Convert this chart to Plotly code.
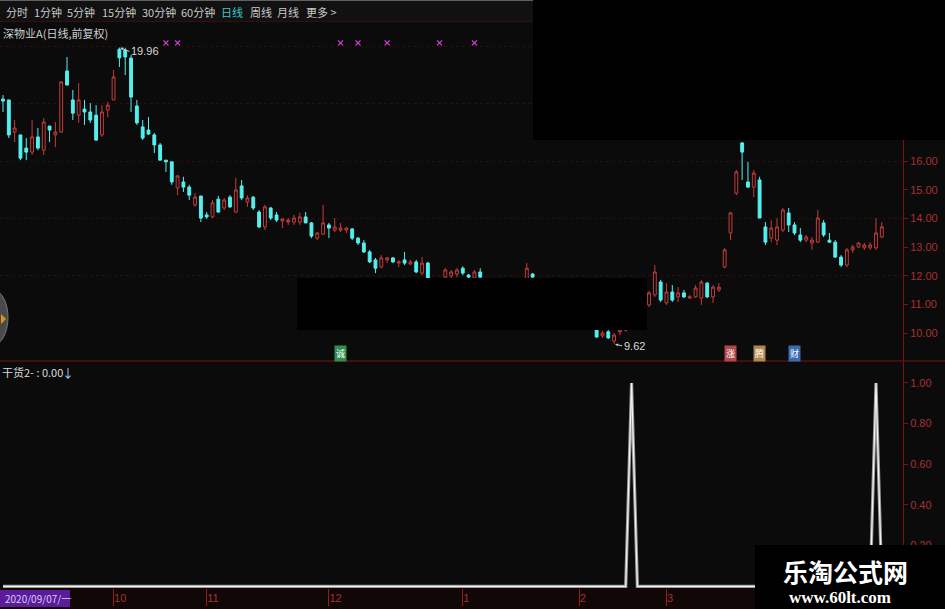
import plotly.graph_objects as go
import pandas as pd

# ---------------- data ----------------
holidays = ["2020-10-01", "2020-10-02", "2020-10-05", "2020-10-06", "2020-10-07", "2020-10-08",
            "2021-01-01", "2021-02-11", "2021-02-12", "2021-02-15", "2021-02-16", "2021-02-17",
            "2021-04-05"]
dates = [d.strftime("%Y-%m-%d") for d in pd.bdate_range("2020-09-04", "2021-04-22")
         if d.strftime("%Y-%m-%d") not in holidays]

open_ = [18.16, 18.13, 17.01, 16.91, 16.45, 16.31, 16.84, 16.38, 17.22, 16.91,
         17.01, 19.14, 18.13, 17.60, 17.81, 17.71, 17.60, 16.91, 17.78, 18.13,
         19.90, 19.87, 19.59, 17.92, 17.19, 17.08, 16.91, 16.56, 16.03, 15.97,
         15.06, 15.27, 15.09, 14.47, 14.78, 14.12, 14.05, 14.67, 14.36, 14.74,
         14.22, 15.13, 14.57, 14.74, 14.22, 13.70, 14.36, 14.12, 13.91, 13.87,
         13.87, 13.87, 14.05, 13.84, 13.31, 13.45, 13.77, 13.59, 13.59, 13.59,
         13.63, 13.31, 13.14, 12.83, 12.55, 12.30, 12.55, 12.62, 12.44, 12.55,
         12.41, 12.48, 12.09, 12.44, 11.85, 11.65, 11.95, 11.99, 12.06, 12.26,
         12.02, 11.92, 12.13, 11.90, 11.70, 11.80, 11.65, 11.75, 11.70, 11.75,
         11.90, 12.06, 11.85, 11.65, 11.50, 11.40, 11.45, 11.15, 10.95, 10.80,
         10.60, 10.40, 10.11, 9.90, 10.04, 9.72, 10.04, 10.10, 10.35, 10.70,
         10.90, 10.98, 11.33, 11.78, 11.05, 11.43, 11.26, 11.40, 11.22, 11.26,
         11.22, 11.74, 11.26, 11.50, 12.30, 13.49, 14.88, 16.63, 15.27, 15.09,
         15.34, 13.70, 13.31, 13.24, 13.59, 14.19, 13.77, 13.42, 13.24, 13.14,
         13.17, 13.84, 13.24, 13.17, 12.65, 12.37, 12.90, 13.00, 12.97, 12.97,
         12.97, 13.35]
high = [18.30, 18.13, 17.43, 16.91, 16.80, 17.43, 17.15, 17.50, 17.22, 17.36,
        18.79, 19.63, 18.48, 18.72, 18.13, 18.02, 17.95, 17.95, 18.06, 19.17,
        19.96, 19.95, 19.70, 18.13, 17.43, 17.53, 16.98, 16.63, 16.03, 15.97,
        15.51, 15.45, 15.17, 14.88, 14.78, 14.22, 14.64, 14.78, 14.71, 14.81,
        15.41, 15.34, 14.81, 14.78, 14.29, 14.47, 14.40, 14.22, 14.01, 14.01,
        14.12, 14.19, 14.22, 13.87, 13.52, 14.47, 13.84, 14.01, 13.84, 13.70,
        13.66, 13.35, 13.24, 12.90, 12.62, 12.72, 12.65, 12.65, 12.55, 12.83,
        12.55, 12.55, 12.65, 12.48, 11.88, 11.85, 12.26, 12.20, 12.26, 12.33,
        12.06, 12.20, 12.26, 11.92, 11.85, 11.88, 11.80, 11.88, 11.85, 11.88,
        12.44, 12.09, 11.90, 11.75, 11.60, 11.55, 11.50, 11.25, 11.05, 10.90,
        10.70, 10.50, 10.18, 10.07, 10.11, 10.00, 10.18, 10.40, 10.75, 11.00,
        11.10, 11.47, 12.37, 11.85, 11.74, 11.67, 11.60, 11.50, 11.33, 11.67,
        11.85, 11.78, 11.67, 11.74, 12.97, 14.22, 15.69, 16.66, 15.97, 15.69,
        15.45, 13.87, 13.94, 14.01, 14.36, 14.36, 13.87, 13.66, 13.42, 13.35,
        14.29, 13.94, 13.49, 13.24, 12.72, 12.97, 13.07, 13.17, 13.14, 13.17,
        14.01, 13.87]
low = [17.71, 16.80, 16.66, 16.03, 16.03, 16.21, 16.38, 16.21, 16.66, 16.49,
       16.98, 18.65, 17.43, 17.33, 17.26, 17.33, 16.70, 16.84, 17.53, 18.13,
       19.28, 19.00, 17.71, 17.26, 16.73, 16.91, 16.28, 16.03, 15.62, 15.17,
       14.81, 14.92, 14.64, 14.40, 13.87, 13.98, 14.01, 14.19, 14.29, 14.36,
       14.19, 14.64, 14.40, 14.29, 13.66, 13.59, 13.94, 13.87, 13.66, 13.77,
       13.77, 13.77, 13.84, 13.31, 13.24, 13.42, 13.31, 13.52, 13.52, 13.49,
       13.24, 13.07, 12.79, 12.44, 12.09, 12.26, 12.44, 12.44, 12.30, 12.37,
       12.37, 12.09, 12.02, 11.88, 11.60, 11.55, 11.85, 11.90, 11.95, 12.02,
       11.88, 11.85, 11.85, 11.60, 11.55, 11.60, 11.50, 11.60, 11.55, 11.62,
       11.85, 11.90, 11.60, 11.45, 11.30, 11.25, 11.10, 10.90, 10.70, 10.55,
       10.35, 10.10, 9.83, 9.83, 9.79, 9.62, 9.93, 10.05, 10.30, 10.60,
       10.80, 10.91, 11.26, 11.08, 10.98, 11.08, 11.08, 11.22, 11.19, 11.22,
       10.98, 11.22, 11.05, 11.43, 12.26, 13.24, 14.81, 15.34, 15.06, 14.74,
       14.01, 13.07, 13.17, 13.07, 13.52, 13.52, 13.42, 13.17, 13.17, 12.90,
       13.14, 13.35, 13.14, 12.62, 12.30, 12.30, 12.79, 12.97, 12.90, 12.90,
       12.90, 13.31]
close = [18.09, 16.91, 17.15, 16.10, 16.31, 16.84, 16.45, 17.36, 17.08, 17.01,
         18.76, 18.65, 17.67, 18.13, 17.71, 17.43, 16.73, 17.71, 17.95, 18.93,
         19.60, 19.63, 18.23, 17.33, 16.80, 16.94, 16.56, 16.03, 15.97, 15.27,
         15.48, 15.09, 14.81, 14.74, 14.01, 14.05, 14.54, 14.22, 14.64, 14.40,
         14.99, 14.71, 14.71, 14.36, 13.70, 14.40, 14.01, 13.94, 13.98, 13.94,
         14.01, 14.05, 13.84, 13.38, 13.49, 13.84, 13.66, 13.70, 13.66, 13.66,
         13.31, 13.14, 12.83, 12.48, 12.26, 12.62, 12.62, 12.48, 12.48, 12.44,
         12.48, 12.13, 12.44, 11.92, 11.70, 11.80, 12.20, 12.13, 12.20, 12.09,
         11.95, 12.13, 11.95, 11.70, 11.80, 11.65, 11.75, 11.70, 11.80, 11.82,
         12.26, 11.95, 11.65, 11.50, 11.40, 11.45, 11.15, 10.95, 10.80, 10.60,
         10.40, 10.15, 9.86, 10.00, 9.83, 9.93, 10.11, 10.35, 10.70, 10.90,
         11.05, 11.40, 12.13, 11.15, 11.43, 11.15, 11.40, 11.26, 11.26, 11.57,
         11.78, 11.26, 11.60, 11.60, 12.90, 14.19, 15.62, 16.31, 15.09, 15.58,
         14.01, 13.17, 13.66, 13.70, 14.29, 13.77, 13.49, 13.24, 13.35, 13.24,
         14.01, 13.42, 13.17, 12.65, 12.37, 12.90, 13.00, 13.14, 13.07, 13.07,
         13.49, 13.70]

signal_dates = ["2021-02-19", "2021-04-21"]          # 干货2 = 1
mark_dates = ["2020-10-22", "2020-10-26", "2020-12-03", "2020-12-08",
              "2020-12-15", "2020-12-28", "2021-01-06"]  # magenta x marks
month_ticks = ["2020-10-09", "2020-11-02", "2020-12-01", "2021-01-04", "2021-02-01", "2021-03-01"]
month_text = ["10", "11", "12", "1", "2", "3"]
price_ticks = [10, 11, 12, 13, 14, 15, 16]
ind_ticks = [0.2, 0.4, 0.6, 0.8, 1.0]
hi_date, hi_val = "2020-10-12", 19.96
lo_date, lo_val = "2021-02-09", 9.62
icons = [("诚", "2020-12-03", "#2f8f4f"), ("涨", "2021-03-16", "#b04848"),
         ("腾", "2021-03-23", "#b0884a"), ("财", "2021-03-31", "#3a6ab0")]

ganhuo2 = [1.0 if d in signal_dates else 0.0 for d in dates]

# ---------------- style ----------------
W, H = 945, 609
BG = "#0b0b0b"
RED = "#c63c3c"
CYAN = "#54f0f0"
AXRED = "#7a1414"
LBL = "#a83030"
CJK = "Noto Sans CJK SC"


def px(x):
    return x / W


def py(y):
    return 1 - y / H


XR = [-0.515, 154.64]

fig = go.Figure()
fig.add_trace(go.Candlestick(
    x=dates, open=open_, high=high, low=low, close=close,
    increasing=dict(line=dict(color=RED, width=1), fillcolor=BG),
    decreasing=dict(line=dict(color=CYAN, width=1), fillcolor=CYAN),
    whiskerwidth=0, xaxis="x", yaxis="y", showlegend=False, hoverinfo="skip"))
fig.add_trace(go.Scatter(
    x=mark_dates, y=[20.12] * len(mark_dates), mode="markers",
    marker=dict(symbol="x-thin", size=5, line=dict(color="#d040d0", width=1.3)),
    xaxis="x", yaxis="y", showlegend=False, hoverinfo="skip"))
fig.add_trace(go.Scatter(
    x=dates, y=ganhuo2, mode="lines", line=dict(color="#9a9a9a", width=3.2),
    xaxis="x2", yaxis="y2", showlegend=False, hoverinfo="skip"))
fig.add_trace(go.Scatter(
    x=dates, y=ganhuo2, mode="lines", line=dict(color="#f2f2f2", width=1.2),
    xaxis="x2", yaxis="y2", showlegend=False, hoverinfo="skip"))

shapes = [
    # toolbar
    dict(type="rect", xref="paper", yref="paper", x0=0, x1=1, y0=py(21), y1=1,
         fillcolor="#111111", line_width=0, layer="below"),
    dict(type="line", xref="paper", yref="paper", x0=0, x1=1, y0=py(21.5), y1=py(21.5),
         line=dict(color="#3a0c0c", width=1)),
    dict(type="line", xref="paper", yref="paper", x0=0, x1=1, y0=py(0.5), y1=py(0.5),
         line=dict(color="#606060", width=1)),
    # panel separator
    dict(type="line", xref="paper", yref="paper", x0=0, x1=1, y0=py(361), y1=py(361),
         line=dict(color=AXRED, width=1.2)),
    # bottom strip
    dict(type="rect", xref="paper", yref="paper", x0=0, x1=px(903), y0=0, y1=py(588),
         fillcolor="#120707", line_width=0, layer="below"),
    dict(type="rect", xref="paper", yref="paper", x0=0, x1=px(70), y0=py(607), y1=py(590),
         fillcolor="#5a1c98", line_width=0),
    # left scroll button
    dict(type="circle", xref="paper", yref="paper", x0=px(-22), x1=px(8), y0=py(345), y1=py(290),
         fillcolor="#4a4a4a", line=dict(color="#777777", width=1), layer="above"),
    dict(type="path", xref="paper", yref="paper",
         path=f"M {px(1)} {py(314)} L {px(6)} {py(319)} L {px(1)} {py(324)} Z",
         fillcolor="#e09020", line_width=0, layer="above"),
    # masks
    dict(type="rect", xref="paper", yref="paper", x0=px(533), x1=1, y0=py(140), y1=1,
         fillcolor="#000000", line_width=0, layer="above"),
    dict(type="rect", xref="paper", yref="paper", x0=px(297), x1=px(647), y0=py(330), y1=py(278),
         fillcolor="#000000", line_width=0, layer="above"),
    dict(type="rect", xref="paper", yref="paper", x0=px(755), x1=1, y0=0, y1=py(545),
         fillcolor="#000000", line_width=0, layer="above"),
]

ann = []
toolbar = [("分时", 4), ("1分钟", 32), ("5分钟", 65), ("15分钟", 100), ("30分钟", 140),
           ("60分钟", 179), ("日线", 219), ("周线", 248), ("月线", 275), ("更多 >", 304)]
for t, x in toolbar:
    ann.append(dict(text=t, x=px(x), y=py(12), xref="paper", yref="paper", xanchor="left",
                    yanchor="middle", showarrow=False,
                    font=dict(family=CJK, size=11, color="#40c4cc" if t == "日线" else "#c8c8c8")))
ann.append(dict(text="深物业A(日线,前复权)", x=px(1), y=py(33), xref="paper", yref="paper",
                xanchor="left", yanchor="middle", showarrow=False,
                font=dict(family=CJK, size=11, color="#cfcfcf")))
ann.append(dict(text="干货2- : 0.00", x=px(0), y=py(372), xref="paper", yref="paper",
                xanchor="left", yanchor="middle", showarrow=False,
                font=dict(family=CJK, size=11, color="#dcdcdc")))
ann.append(dict(text="↓", x=px(60), y=py(372), xref="paper", yref="paper",
                xanchor="left", yanchor="middle", showarrow=False,
                font=dict(family=CJK, size=12, color="#a8d8ff")))
ann.append(dict(text=f"{hi_val:.2f}", x=hi_date, y=hi_val, xref="x", yref="y",
                ax=10, ay=4, xanchor="left", yanchor="middle", showarrow=True,
                arrowhead=2, arrowsize=0.6, arrowwidth=1, arrowcolor="#cfcfcf", standoff=1,
                font=dict(family="Liberation Sans", size=11, color="#d8d8d8")))
ann.append(dict(text=f"{lo_val:.2f}", x=lo_date, y=lo_val, xref="x", yref="y",
                ax=8, ay=2, xanchor="left", yanchor="middle", showarrow=True,
                arrowhead=2, arrowsize=0.6, arrowwidth=1, arrowcolor="#cfcfcf", standoff=1,
                font=dict(family="Liberation Sans", size=11, color="#d8d8d8")))
for t, d, c in icons:
    ann.append(dict(text=t, x=d, y=py(353), xref="x", yref="paper", showarrow=False,
                    xanchor="center", yanchor="middle", bgcolor=c, borderpad=1,
                    font=dict(family=CJK, size=9, color="#ffffff")))
ann.append(dict(text="2020/09/07/一", x=px(3), y=py(598.5), xref="paper", yref="paper",
                xanchor="left", yanchor="middle", showarrow=False,
                font=dict(family=CJK, size=10, color="#d8c8ff")))
ann.append(dict(text="<b>乐淘公式网</b>", x=px(845), y=py(571), xref="paper", yref="paper",
                xanchor="center", yanchor="middle", showarrow=False,
                font=dict(family=CJK, size=25, color="#ffffff")))
ann.append(dict(text="<b>www.60lt.com</b>", x=px(840), y=py(597), xref="paper", yref="paper",
                xanchor="center", yanchor="middle", showarrow=False,
                font=dict(family="Liberation Serif", size=17, color="#ffffff")))

XD = [0, px(903)]
fig.update_layout(
    width=W, height=H, margin=dict(l=0, r=0, t=0, b=0),
    paper_bgcolor=BG, plot_bgcolor=BG, showlegend=False,
    xaxis=dict(domain=XD, type="category", range=XR, anchor="y", showticklabels=False,
               showgrid=False, zeroline=False, ticks="", rangeslider=dict(visible=False)),
    xaxis2=dict(domain=XD, type="category", range=XR, anchor="y2", showgrid=False,
                zeroline=False, tickvals=month_ticks, ticktext=month_text, ticks="outside",
                ticklen=17, tickcolor="#9a1c1c", tickwidth=1, ticklabelposition="outside right",
                tickfont=dict(family="Liberation Sans", size=11, color=LBL), showline=False,
                automargin=False),
    yaxis=dict(domain=[py(361), py(22)], range=[9.024, 20.849], side="right", anchor="x",
               tickvals=price_ticks, ticktext=[f"{v:.2f}" for v in price_ticks],
               ticks="outside", ticklen=4, tickcolor=AXRED, showline=True, linecolor=AXRED,
               linewidth=1, showgrid=False, zeroline=False, automargin=False,
               tickfont=dict(family="Liberation Sans", size=11, color=LBL),
               minor=dict(tickvals=[12, 14, 16, 18, 20], showgrid=True, gridcolor="#2e0d0d",
                          griddash="dot", gridwidth=1, ticks="")),
    yaxis2=dict(domain=[py(588), py(362)], range=[-0.0084, 1.103], side="right", anchor="x2",
                tickvals=ind_ticks, ticktext=[f"{v:.2f}" for v in ind_ticks],
                ticks="outside", ticklen=4, tickcolor=AXRED, showline=True, linecolor=AXRED,
                linewidth=1, showgrid=False, zeroline=False, automargin=False,
                tickfont=dict(family="Liberation Sans", size=11, color=LBL)),
    shapes=shapes, annotations=ann,
)

fig.write_html("out.html", config={"displayModeBar": False},
               post_script="document.body.style.margin='0';document.body.style.overflow='hidden';")
